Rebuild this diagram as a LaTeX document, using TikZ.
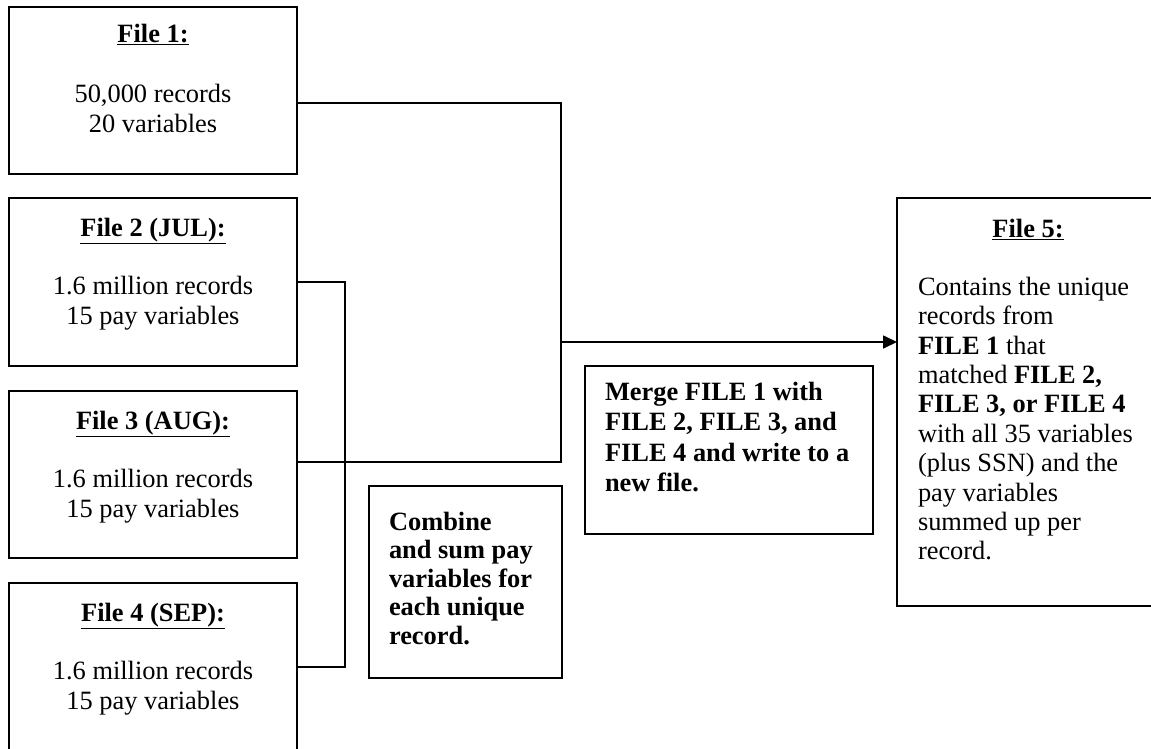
\documentclass[tikz,border=0pt]{standalone}
\usepackage{fontspec}
\setmainfont{Liberation Serif}
\usetikzlibrary{arrows.meta}
\begin{document}
\begin{tikzpicture}[x=1pt,y=-1pt,
  box/.style={draw=black,line width=1.7pt,rectangle,inner sep=0pt,outer sep=0pt,anchor=north west},
  conn/.style={draw=black,line width=1.7pt},
  txt/.style={inner sep=0pt,outer sep=0pt,font=\fontsize{26.4}{30}\selectfont},
  head/.style={txt,anchor=base,font=\fontsize{26.4}{30}\selectfont\bfseries},
  body/.style={txt,anchor=north,align=center},
  lbody/.style={txt,anchor=north west,align=left}]
\useasboundingbox (0,0) rectangle (1151,748);
% boxes
\node[box,minimum width=288pt,minimum height=167pt] (b1) at (9,7) {};
\node[box,minimum width=288pt,minimum height=168pt] (b2) at (9,198) {};
\node[box,minimum width=288pt,minimum height=167pt] (b3) at (9,391) {};
\node[box,minimum width=288pt,minimum height=180pt] (b4) at (9,583) {};
\node[box,minimum width=270pt,minimum height=408pt] (b5) at (897,198) {};
\node[box,minimum width=288pt,minimum height=168pt] (merge) at (585,366) {};
\node[box,minimum width=193pt,minimum height=192pt] (combine) at (369,486) {};
% texts
\node[head] (h1) at (153,42) {\underline{File 1:}};
\node[body] (t1) at (153,84) {50,000 records\\20 variables};
\node[head] (h2) at (153,236) {\underline{File 2 (JUL):}};
\node[body] (t2) at (153,276) {1.6 million records\\15 pay variables};
\node[head] (h3) at (153,429) {\underline{File 3 (AUG):}};
\node[body] (t3) at (153,469) {1.6 million records\\15 pay variables};
\node[head] (h4) at (153,621) {\underline{File 4 (SEP):}};
\node[body] (t4) at (153,661) {1.6 million records\\15 pay variables};
\node[head] (h5) at (1028,237) {\underline{File 5:}};
\node[lbody,font=\fontsize{26.4}{29.4}\selectfont] (t5) at (918,277) {Contains the unique\\records from\\\textbf{FILE 1} that\\matched \textbf{FILE 2,}\\\textbf{FILE 3, or FILE 4}\\with all 35 variables\\(plus SSN) and the\\pay variables\\summed up per\\record.};
\node[lbody,font=\fontsize{26.4}{30.5}\selectfont\bfseries] (tm) at (605,382) {Merge FILE 1 with\\FILE 2, FILE 3, and\\FILE 4 and write to a\\new file.};
\node[lbody,font=\fontsize{26.4}{28.5}\selectfont\bfseries] (tc) at (389,512) {Combine\\and sum pay\\variables for\\each unique\\record.};
% connectors
\coordinate (j1) at (561,103);
\coordinate (j2) at (561,462);
\coordinate (j3) at (345,282);
\coordinate (j4) at (345,667);
\coordinate (jm) at (561,342);
\draw[conn] (b1.east |- j1) -- (j1) -- (j2) -- (b3.east |- j2);
\draw[conn] (b2.east |- j3) -- (j3) -- (j4) -- (b4.east |- j4);
\draw[conn,-{Triangle[length=14pt,width=13pt]}] (jm) -- (b5.west |- jm);
\end{tikzpicture}
\end{document}
